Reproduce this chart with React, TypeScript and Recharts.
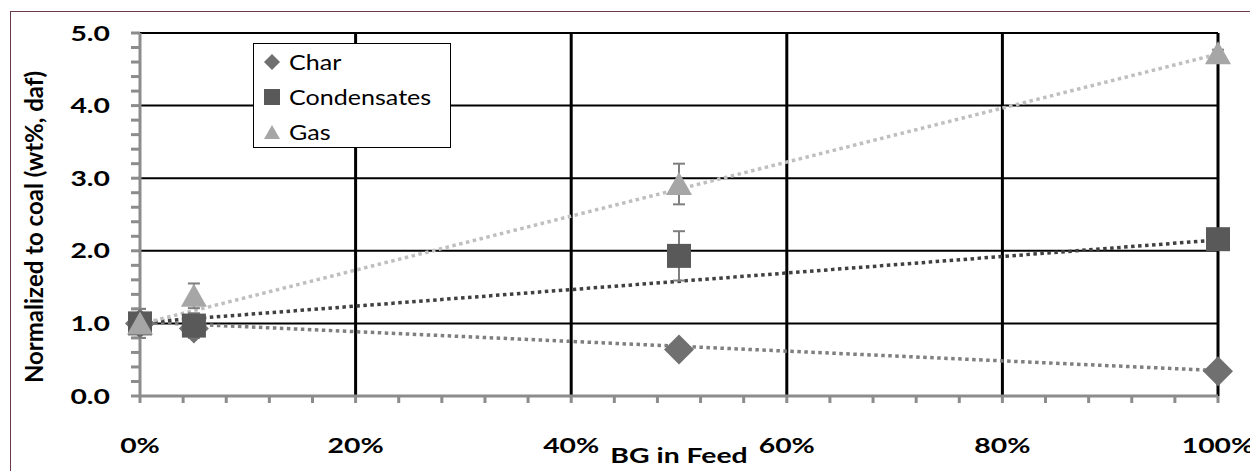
import React from 'react';
import {
  ComposedChart, Scatter, Line, XAxis, YAxis, ErrorBar, ReferenceLine
} from 'recharts';

// BG share in the feed (%)
const feedPct = [0, 5, 50, 100];

const charValues = [1.0, 0.93, 0.64, 0.34];
const charErr = [0.05, 0.05, 0.04, 0.03];
const condValues = [1.0, 0.97, 1.93, 2.16];
const condErr = [0.2, 0.17, 0.34, 0.05];
const gasValues = [1.0, 1.38, 2.92, 4.72];
const gasErr = [0.2, 0.17, 0.28, 0.05];

// linear trendlines, read at 0% and 100%
const trendX = [0, 100];
const charTrend = [1.02, 0.35];
const condTrend = [1.01, 2.15];
const gasTrend = [0.99, 4.71];

const xTicks = [0, 4, 8, 12, 16, 20, 24, 28, 32, 36, 40, 44, 48, 52, 56, 60, 64, 68, 72, 76, 80, 84, 88, 92, 96, 100];
const yTicks = [0, 0.2, 0.4, 0.6, 0.8, 1, 1.2, 1.4, 1.6, 1.8, 2, 2.2, 2.4, 2.6, 2.8, 3, 3.2, 3.4, 3.6, 3.8, 4, 4.2, 4.4, 4.6, 4.8, 5];
const gridX = [20, 40, 60, 80, 100];
const gridY = [1, 2, 3, 4, 5];

const toPoints = (vals: number[], errs: number[]) =>
  feedPct.map((x, i) => ({ x, y: vals[i], err: errs[i] }));
const toTrend = (vals: number[]) => trendX.map((x, i) => ({ x, y: vals[i] }));

const FONT = 'Lato, "Open Sans", sans-serif';
const AXIS = '#8c8c8c';
const CHAR = '#707070';
const COND = '#595959';
const GAS = '#a6a6a6';
const STRETCH = 1.35; // the source figure is stretched sideways

const Diamond = (p: any) => {
  const { cx, cy, fill } = p;
  const r = 15;
  return <polygon points={`${cx},${cy - r} ${cx + r},${cy} ${cx},${cy + r} ${cx - r},${cy}`} fill={fill} />;
};
const Square = (p: any) => {
  const { cx, cy, fill } = p;
  return <rect x={cx - 12} y={cy - 12} width={24} height={24} fill={fill} />;
};
const Triangle = (p: any) => {
  const { cx, cy, fill } = p;
  return <polygon points={`${cx},${cy - 12} ${cx + 13},${cy + 11} ${cx - 13},${cy + 11}`} fill={fill} />;
};

const XTick = (p: any) => {
  const { x, y, payload } = p;
  if (payload.value % 20 !== 0) return null;
  return (
    <text transform={`translate(${x},${y}) scale(${STRETCH},1)`} textAnchor="middle" dy="0.71em"
      fontFamily={FONT} fontWeight={700} fontSize={21} fill="#000">
      {`${payload.value}%`}
    </text>
  );
};

const YTick = (p: any) => {
  const { x, y, payload } = p;
  if (!Number.isInteger(payload.value)) return null;
  return (
    <text transform={`translate(${x},${y}) scale(${STRETCH},1)`} textAnchor="end" dy="0.36em"
      fontFamily={FONT} fontWeight={700} fontSize={21} fill="#000">
      {payload.value.toFixed(1)}
    </text>
  );
};

const XLabel = (p: any) => {
  const vb = p.viewBox || { x: 132, width: 1078 };
  const cx = vb.x + vb.width / 2;
  return (
    <text transform={`translate(${cx},455) scale(${STRETCH},1)`} textAnchor="middle"
      fontFamily={FONT} fontWeight={700} fontSize={21} fill="#000">
      BG in Feed
    </text>
  );
};

const YLabel = () => (
  <text
    transform="translate(35,219) rotate(-90)"
    textAnchor="middle"
    fontFamily={FONT}
    fontWeight={700}
    fontSize={24}
    fill="#000"
  >
    Normalized to coal (wt%, daf)
  </text>
);

function LegendBox() {
  const items = [
    { name: 'Char', color: CHAR, kind: 'diamond' },
    { name: 'Condensates', color: COND, kind: 'square' },
    { name: 'Gas', color: GAS, kind: 'triangle' },
  ];
  return (
    <div
      style={{
        position: 'absolute', left: 245, top: 35, width: 196, height: 103,
        border: '1.5px solid #000', background: '#fff', fontFamily: FONT,
        fontSize: 22, color: '#000', boxSizing: 'content-box',
      }}
    >
      {items.map((it) => (
        <div key={it.name} style={{ display: 'flex', alignItems: 'center', height: 35, paddingLeft: 9 }}>
          <svg width={18} height={18} style={{ marginRight: 8 }}>
            {it.kind === 'diamond' && <polygon points="9,1 17,9 9,17 1,9" fill={it.color} />}
            {it.kind === 'square' && <rect x={1} y={1} width={16} height={16} fill={it.color} />}
            {it.kind === 'triangle' && <polygon points="9,2 17,16 1,16" fill={it.color} />}
          </svg>
          <span style={{ display: 'inline-block', transform: 'scaleX(1.14)', transformOrigin: 'left center' }}>
            {it.name}
          </span>
        </div>
      ))}
    </div>
  );
}

export default function App() {
  return (
    <div style={{ position: 'relative', width: 1250, height: 463, overflow: 'hidden', background: '#fff' }}>
      <div
        style={{
          position: 'absolute', left: 2, top: 3, width: 1300, height: 520,
          border: '1.5px solid #6b3a4c',
        }}
      />
      <ComposedChart width={1250} height={463} margin={{ top: 25, right: 40, bottom: 0, left: 0 }}>
        {gridY.map((v) => (
          <ReferenceLine key={`h${v}`} y={v} stroke="#000" strokeWidth={2} zIndex={-50} />
        ))}
        {gridX.map((v) => (
          <ReferenceLine key={`v${v}`} x={v} stroke="#000" strokeWidth={3} zIndex={-50} />
        ))}
        <XAxis
          type="number"
          dataKey="x"
          domain={[0, 100]}
          ticks={xTicks}
          interval={0}
          height={75}
          axisLine={{ stroke: AXIS, strokeWidth: 3 }}
          tickLine={{ stroke: AXIS, strokeWidth: 3 }}
          tickSize={7}
          tickMargin={35}
          tick={<XTick />}
          label={<XLabel />}
        />
        <YAxis
          type="number"
          domain={[0, 5]}
          ticks={yTicks}
          interval={0}
          width={132}
          axisLine={{ stroke: AXIS, strokeWidth: 3 }}
          tickLine={{ stroke: AXIS, strokeWidth: 3 }}
          tickSize={9}
          tickMargin={21}
          tick={<YTick />}
          label={<YLabel />}
        />
        <Line data={toTrend(charTrend)} dataKey="y" stroke="#7f7f7f" strokeWidth={3.5} strokeDasharray="3.5 3.5" dot={false} isAnimationActive={false} />
        <Line data={toTrend(condTrend)} dataKey="y" stroke="#404040" strokeWidth={3.5} strokeDasharray="3.5 3.5" dot={false} isAnimationActive={false} />
        <Line data={toTrend(gasTrend)} dataKey="y" stroke="#bfbfbf" strokeWidth={3.5} strokeDasharray="3.5 3.5" dot={false} isAnimationActive={false} />
        <Scatter name="Char" data={toPoints(charValues, charErr)} dataKey="y" fill={CHAR} shape={Diamond} isAnimationActive={false}>
          <ErrorBar dataKey="err" direction="y" width={6} stroke="#7f7f7f" strokeWidth={2} />
        </Scatter>
        <Scatter name="Condensates" data={toPoints(condValues, condErr)} dataKey="y" fill={COND} shape={Square} isAnimationActive={false}>
          <ErrorBar dataKey="err" direction="y" width={6} stroke="#7f7f7f" strokeWidth={2} />
        </Scatter>
        <Scatter name="Gas" data={toPoints(gasValues, gasErr)} dataKey="y" fill={GAS} shape={Triangle} isAnimationActive={false}>
          <ErrorBar dataKey="err" direction="y" width={6} stroke="#7f7f7f" strokeWidth={2} />
        </Scatter>
      </ComposedChart>
      <LegendBox />
    </div>
  );
}
